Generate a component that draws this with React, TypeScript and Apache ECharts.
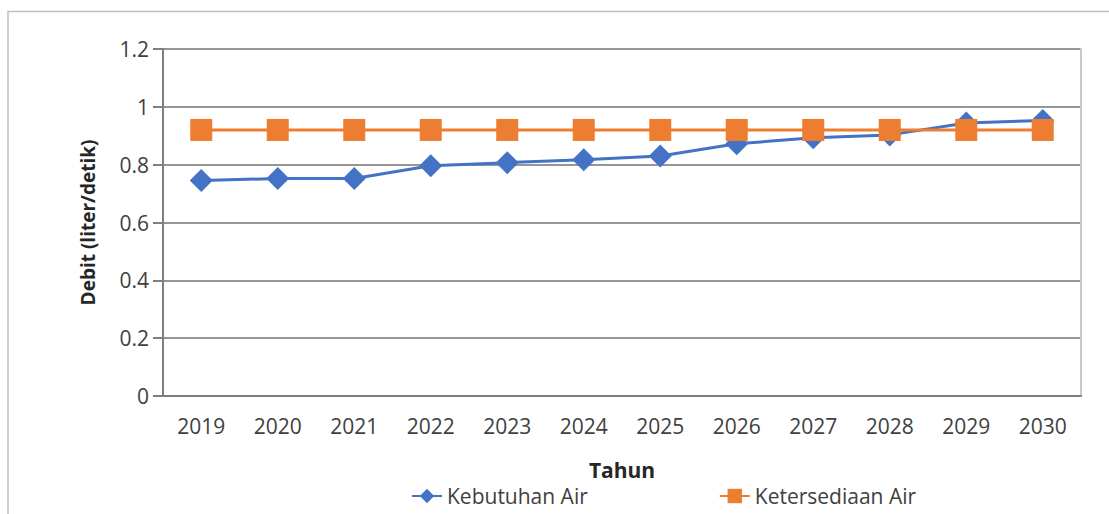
import React, { useEffect, useRef } from "react";
import * as echarts from "echarts";

const years = ["2019", "2020", "2021", "2022", "2023", "2024", "2025", "2026", "2027", "2028", "2029", "2030"];
const kebutuhanAir = [0.745, 0.752, 0.752, 0.796, 0.807, 0.817, 0.83, 0.872, 0.893, 0.903, 0.944, 0.953];
const ketersediaanAir = [0.92, 0.92, 0.92, 0.92, 0.92, 0.92, 0.92, 0.92, 0.92, 0.92, 0.92, 0.92];
const seriesNames = ["Kebutuhan Air", "Ketersediaan Air"];

const FONT = "'Open Sans', 'Noto Sans', sans-serif";

export default function App() {
  const ref = useRef<HTMLDivElement>(null);
  useEffect(() => {
    if (!ref.current) return;
    const chart = echarts.init(ref.current, undefined, { renderer: "svg" });
    chart.setOption({
      animation: false,
      backgroundColor: "#ffffff",
      textStyle: { fontFamily: FONT },
      graphic: [
        {
          type: "rect",
          shape: { x: 8, y: 11.5, width: 1300, height: 700 },
          style: { fill: "none", stroke: "#c0c0c0", lineWidth: 1.5 },
          silent: true,
        },
      ],
      grid: { left: 163, right: 28, top: 49, bottom: 118, containLabel: false },
      legend: {
        data: seriesNames,
        left: 406,
        top: 480,
        itemGap: 131,
        itemWidth: 30,
        itemHeight: 18,
        textStyle: { fontSize: 21, lineHeight: 22, color: "#404040", fontFamily: FONT },
      },
      xAxis: {
        type: "category",
        data: years,
        boundaryGap: true,
        name: "Tahun",
        nameLocation: "middle",
        nameGap: 63,
        nameTextStyle: { fontSize: 21, fontWeight: "bold", color: "#262626", fontFamily: FONT },
        axisLine: { show: true, lineStyle: { color: "#7f7f7f", width: 2 } },
        axisTick: { show: false },
        axisLabel: { fontSize: 21, color: "#404040", margin: 19, fontFamily: FONT },
        splitLine: { show: false },
      },
      yAxis: [
        {
          type: "value",
          min: 0,
          max: 1.2,
          interval: 0.2,
          name: "Debit (liter/detik)",
          nameLocation: "middle",
          nameGap: 66,
          nameTextStyle: { fontSize: 19, fontWeight: "bold", color: "#262626", fontFamily: FONT },
          axisLine: { show: true, lineStyle: { color: "#7f7f7f", width: 2 } },
          axisTick: { show: true, length: 10, lineStyle: { color: "#7f7f7f", width: 2 } },
          axisLabel: {
            fontSize: 21,
            color: "#404040",
            margin: 14,
            fontFamily: FONT,
            formatter: (v: number) => String(+v.toFixed(1)),
          },
          splitLine: { show: true, lineStyle: { color: "#969696", width: 2 } },
        },
        {
          type: "value",
          min: 0,
          max: 1.2,
          interval: 0.2,
          position: "right",
          axisLine: { show: true, lineStyle: { color: "#c8c8c8", width: 2 } },
          axisTick: { show: false },
          axisLabel: { show: false },
          splitLine: { show: false },
        },
      ],
      series: [
        {
          name: seriesNames[0],
          type: "line",
          data: kebutuhanAir,
          symbol: "diamond",
          symbolSize: [23, 23],
          itemStyle: { color: "#4472C4" },
          lineStyle: { color: "#4472C4", width: 3 },
        },
        {
          name: seriesNames[1],
          type: "line",
          data: ketersediaanAir,
          symbol: "rect",
          symbolSize: [22, 22],
          itemStyle: { color: "#ED7D31" },
          lineStyle: { color: "#ED7D31", width: 3 },
        },
      ],
    });
    return () => chart.dispose();
  }, []);
  return (
    <div
      ref={ref}
      style={{ position: "fixed", left: 0, top: 0, width: 1109, height: 514 }}
    />
  );
}
